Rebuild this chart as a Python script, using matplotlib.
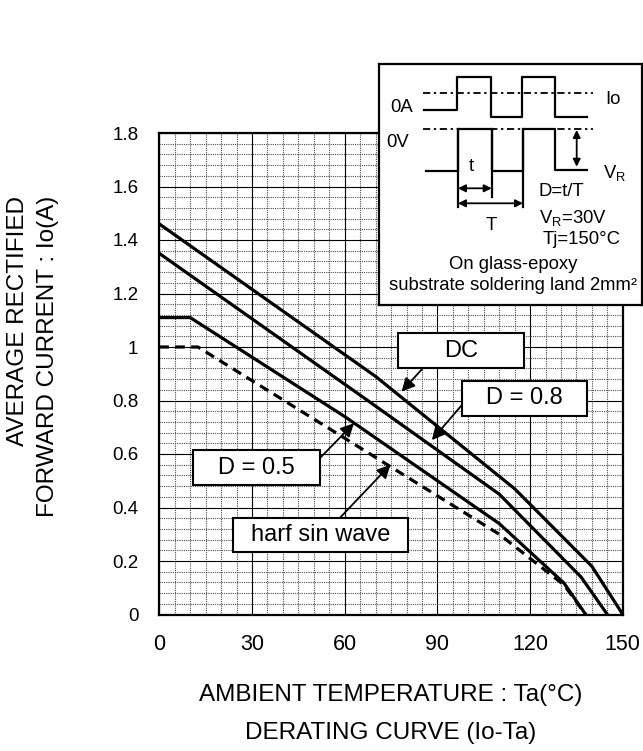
import matplotlib
matplotlib.use('Agg')
import matplotlib.pyplot as plt
from matplotlib.patches import Rectangle
import numpy as np

plt.rcParams['font.family'] = ['Liberation Sans', 'DejaVu Sans']
plt.rcParams['mathtext.fontset'] = 'custom'
plt.rcParams['mathtext.rm'] = 'Liberation Sans'
plt.rcParams['mathtext.it'] = 'Liberation Sans:italic'

# ---------------- data ----------------
dc_t = [0, 70, 115, 140, 150]
dc_io = [1.46, 0.89, 0.47, 0.18, 0.0]
d08_t = [0, 65, 110, 136.5, 145]
d08_io = [1.35, 0.82, 0.45, 0.14, 0.0]
d05_t = [0, 10, 60, 110, 131, 138]
d05_io = [1.11, 1.11, 0.74, 0.34, 0.117, 0.0]
hs_t = [0, 12.5, 110, 131, 138]
hs_io = [1.0, 1.0, 0.30, 0.11, 0.0]

x_ticks = [0, 30, 60, 90, 120, 150]
y_ticks = [0, 0.2, 0.4, 0.6, 0.8, 1.0, 1.2, 1.4, 1.6, 1.8]
y_tick_labels = ['0', '0.2', '0.4', '0.6', '0.8', '1', '1.2', '1.4', '1.6', '1.8']

# waveform sketch (inset, drawing units)
cur_x = [424, 457, 457, 490.7, 490.7, 522, 522, 555, 555, 587]
cur_y = [110, 110, 77, 77, 116.7, 116.7, 77, 77, 116.7, 116.7]
vol_x = [426, 458, 458, 491.7, 491.7, 523, 523, 555, 555, 587]
vol_y = [171, 171, 129, 129, 171, 171, 129, 129, 170, 170]

W, H = 643, 751
fig = plt.figure(figsize=(W / 100, H / 100), dpi=100)
ax = fig.add_axes([159.3 / W, 1 - 614.5 / H, 463.5 / W, 481.5 / H])
ax.set_xlim(0, 150)
ax.set_ylim(0, 1.8)
ax.set_xticks(x_ticks)
ax.set_xticklabels([str(v) for v in x_ticks], fontsize=15.5)
ax.set_yticks(y_ticks)
ax.set_yticklabels(y_tick_labels, fontsize=13.5)
ax.set_xticks(np.arange(0, 151, 5), minor=True)
ax.set_yticks(np.round(np.arange(0, 1.8001, 0.04), 2), minor=True)
ax.tick_params(which='both', length=0)
ax.tick_params(axis='x', pad=14)
ax.tick_params(axis='y', pad=15)
ax.grid(which='minor', color='0.3', lw=0.8, linestyle=(0, (1, 1)))
ax.grid(which='major', color='black', lw=0.8, linestyle='-')
ax.set_axisbelow(True)
for s in ax.spines.values():
    s.set_linewidth(1.6)

ax.plot(dc_t, dc_io, color='black', lw=2.3, zorder=3, solid_joinstyle='miter')
ax.plot(d08_t, d08_io, color='black', lw=2.3, zorder=3)
ax.plot(d05_t, d05_io, color='black', lw=2.3, zorder=3)
ax.plot(hs_t, hs_io, color='black', lw=2.3, zorder=3, linestyle=(0, (3, 2)))


def label_box(x0, x1, y0, y1, text, tip, tail):
    ax.add_patch(Rectangle((x0, y0), x1 - x0, y1 - y0, facecolor='white',
                           edgecolor='black', lw=1.5, zorder=5))
    ax.text((x0 + x1) / 2, (y0 + y1) / 2, text, ha='center', va='center',
            fontsize=17, zorder=6)
    ax.annotate('', xy=tip, xytext=tail,
                arrowprops=dict(arrowstyle='-|>', color='black', lw=1.3,
                                mutation_scale=20, shrinkA=0, shrinkB=0),
                zorder=7)


label_box(77.25, 118.0, 0.921, 1.052, 'DC', (78.4, 0.833), (85.3, 0.921))
label_box(97.9, 138.4, 0.743, 0.873, 'D = 0.8', (88.2, 0.652), (97.9, 0.783))
label_box(11.0, 52.0, 0.484, 0.615, 'D = 0.5', (63.0, 0.715), (52.0, 0.585))
label_box(23.9, 80.4, 0.2325, 0.362, 'harf sin wave', (74.8, 0.56), (58.5, 0.362))

# axis labels
fig.text(391 / W, 1 - 695 / H, 'AMBIENT TEMPERATURE : Ta(°C)', ha='center', va='center', fontsize=17.5)
fig.text(391 / W, 1 - 733 / H, 'DERATING CURVE (Io-Ta)', ha='center', va='center', fontsize=17.5)
fig.text(18 / W, 1 - 196 / H, 'AVERAGE RECTIFIED', rotation=90, ha='center', va='top', fontsize=17.5)
fig.text(48 / W, 1 - 196 / H, 'FORWARD CURRENT : Io(A)', rotation=90, ha='center', va='top', fontsize=17.5)

# ---------------- inset ----------------
ins = fig.add_axes([379 / W, 1 - 305 / H, 263 / W, 241 / H], zorder=10)
ins.set_xlim(379, 642)
ins.set_ylim(305, 64)
ins.set_xticks([])
ins.set_yticks([])
ins.set_facecolor('white')
for s in ins.spines.values():
    s.set_linewidth(1.6)

dd = (0, (4, 2, 1.3, 2))
ins.plot([422.7, 592.7], [93.3, 93.3], color='black', lw=1.3, linestyle=dd)
ins.plot([422.7, 592.7], [129, 129], color='black', lw=1.3, linestyle=dd)
ins.plot(cur_x, cur_y, color='black', lw=1.6)
ins.plot(vol_x, vol_y, color='black', lw=1.6)
ins.plot([458, 458], [129, 207], color='black', lw=1.6)
ins.plot([491.7, 491.7], [129, 197], color='black', lw=1.6)
ins.plot([523, 523], [129, 207], color='black', lw=1.6)

arr = dict(arrowstyle='<|-|>', color='black', lw=1.3, mutation_scale=11, shrinkA=0, shrinkB=0)
ins.annotate('', xy=(458, 188.3), xytext=(491.7, 188.3), arrowprops=arr)
ins.annotate('', xy=(458, 203.3), xytext=(523, 203.3), arrowprops=arr)
ins.annotate('', xy=(576.7, 130), xytext=(576.7, 166.7), arrowprops=arr)

fs = 13.3
ins.text(402, 108, '0A', ha='center', va='center', fontsize=fs)
ins.text(398, 143, '0V', ha='center', va='center', fontsize=fs)
ins.text(613, 100, 'Io', ha='center', va='center', fontsize=fs)
ins.text(603, 173, r'V$_\mathrm{R}$', ha='left', va='center', fontsize=fs)
ins.text(471.7, 166.7, 't', ha='center', va='center', fontsize=fs)
ins.text(491.7, 225, 'T', ha='center', va='center', fontsize=fs)
ins.text(539, 191.7, 'D=t/T', ha='left', va='center', fontsize=fs)
ins.text(539, 218, r'V$_\mathrm{R}$=30V', ha='left', va='center', fontsize=fs)
ins.text(542.7, 240, 'Tj=150°C', ha='left', va='center', fontsize=fs)
ins.text(512.7, 265, 'On glass-epoxy', ha='center', va='center', fontsize=fs)
ins.text(513, 286, 'substrate soldering land 2mm²', ha='center', va='center', fontsize=fs)

fig.savefig('out.png', dpi=100)
